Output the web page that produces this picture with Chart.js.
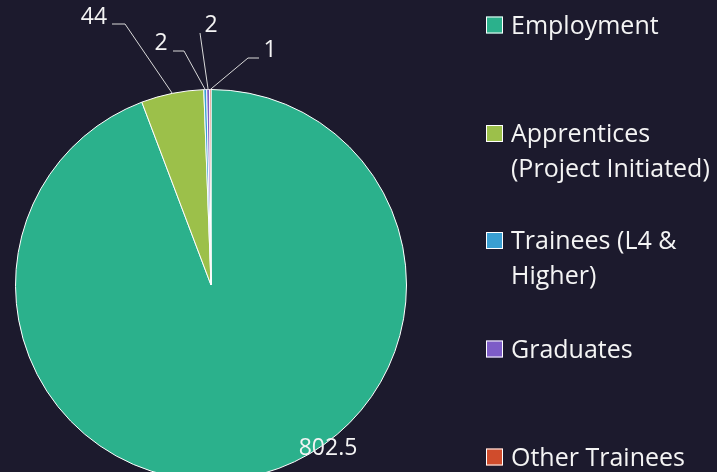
<!DOCTYPE html>
<html>
<head>
<meta charset="utf-8">
<script src="https://cdn.jsdelivr.net/npm/chart.js@4/dist/chart.umd.min.js"></script>
<style>
html,body{margin:0;padding:0;background:#1c1a2d;overflow:hidden;}
#wrap{position:relative;width:717px;height:472px;overflow:hidden;}
canvas{position:absolute;left:0;top:0;}
</style>
</head>
<body>
<div id="wrap"><canvas id="c" width="717" height="600"></canvas></div>
<script>
const categories = ['Employment', 'Apprentices (Project Initiated)', 'Trainees (L4 & Higher)', 'Graduates', 'Other Trainees'];
const values = [802.5, 44, 2, 2, 1];
const valueLabels = ['802.5', '44', '2', '2', '1'];
const colors = ['#2bb18c', '#9cc04a', '#399fd2', '#7d5cc7', '#d04c2c'];

const FONT = '"Open Sans", sans-serif';
const TEXT = '#f4f4f4';

// label placement (layout only)
const labelLayout = [
  {inside: true, x: 328, y: 448},
  {x: 94, y: 17, elbow: [125, 24], end: [112, 24]},
  {x: 161, y: 43, elbow: [184, 51], end: [173, 51]},
  {x: 211, y: 25, elbow: null, end: [200, 33]},
  {x: 270, y: 50, elbow: [248, 58], end: [259, 58]}
];

const labelPlugin = {
  id: 'pieLabels',
  afterDatasetsDraw(chart) {
    const ctx = chart.ctx;
    const meta = chart.getDatasetMeta(0);
    ctx.save();
    ctx.font = '23px ' + FONT;
    ctx.textAlign = 'center';
    ctx.textBaseline = 'middle';
    meta.data.forEach((arc, i) => {
      const L = labelLayout[i];
      const p = arc.getProps(['x', 'y', 'startAngle', 'endAngle', 'outerRadius'], true);
      const mid = (p.startAngle + p.endAngle) / 2;
      const ex = p.x + Math.cos(mid) * p.outerRadius;
      const ey = p.y + Math.sin(mid) * p.outerRadius;
      if (!L.inside) {
        ctx.strokeStyle = '#d9d9d9';
        ctx.lineWidth = 1;
        ctx.beginPath();
        ctx.moveTo(ex, ey);
        if (L.elbow) ctx.lineTo(L.elbow[0], L.elbow[1]);
        ctx.lineTo(L.end[0], L.end[1]);
        ctx.stroke();
      }
      ctx.fillStyle = TEXT;
      ctx.fillText(valueLabels[i], L.x, L.y);
    });
    ctx.restore();
  }
};

const legendPlugin = {
  id: 'sideLegend',
  afterDraw(chart) {
    const ctx = chart.ctx;
    ctx.save();
    ctx.font = '25px ' + FONT;
    ctx.textAlign = 'left';
    ctx.textBaseline = 'alphabetic';
    const tops = [25, 133.5, 240.5, 349, 457];
    const boxX = 486, box = 17, textX = 511, maxW = 205, lineH = 35;
    categories.forEach((name, i) => {
      const words = name.split(' ');
      const lines = [];
      let cur = '';
      words.forEach(w => {
        const t = cur ? cur + ' ' + w : w;
        if (ctx.measureText(t).width > maxW && cur) { lines.push(cur); cur = w; }
        else cur = t;
      });
      lines.push(cur);
      const cy = tops[i];
      ctx.fillStyle = colors[i];
      ctx.fillRect(boxX, cy - box / 2, box, box);
      ctx.strokeStyle = '#ffffff';
      ctx.lineWidth = 1;
      ctx.strokeRect(boxX + 0.5, cy - box / 2 + 0.5, box - 1, box - 1);
      ctx.fillStyle = TEXT;
      lines.forEach((ln, k) => ctx.fillText(ln, textX, cy + 8.5 + k * lineH));
    });
    ctx.restore();
  }
};

new Chart(document.getElementById('c'), {
  type: 'pie',
  data: {
    labels: categories,
    datasets: [{
      data: values,
      backgroundColor: colors,
      borderColor: '#ffffff',
      borderWidth: 1
    }]
  },
  options: {
    responsive: false,
    animation: false,
    layout: {padding: {left: 15, top: 88, right: 310, bottom: 118}},
    plugins: {legend: {display: false}, tooltip: {enabled: false}}
  },
  plugins: [labelPlugin, legendPlugin]
});
</script>
</body>
</html>
